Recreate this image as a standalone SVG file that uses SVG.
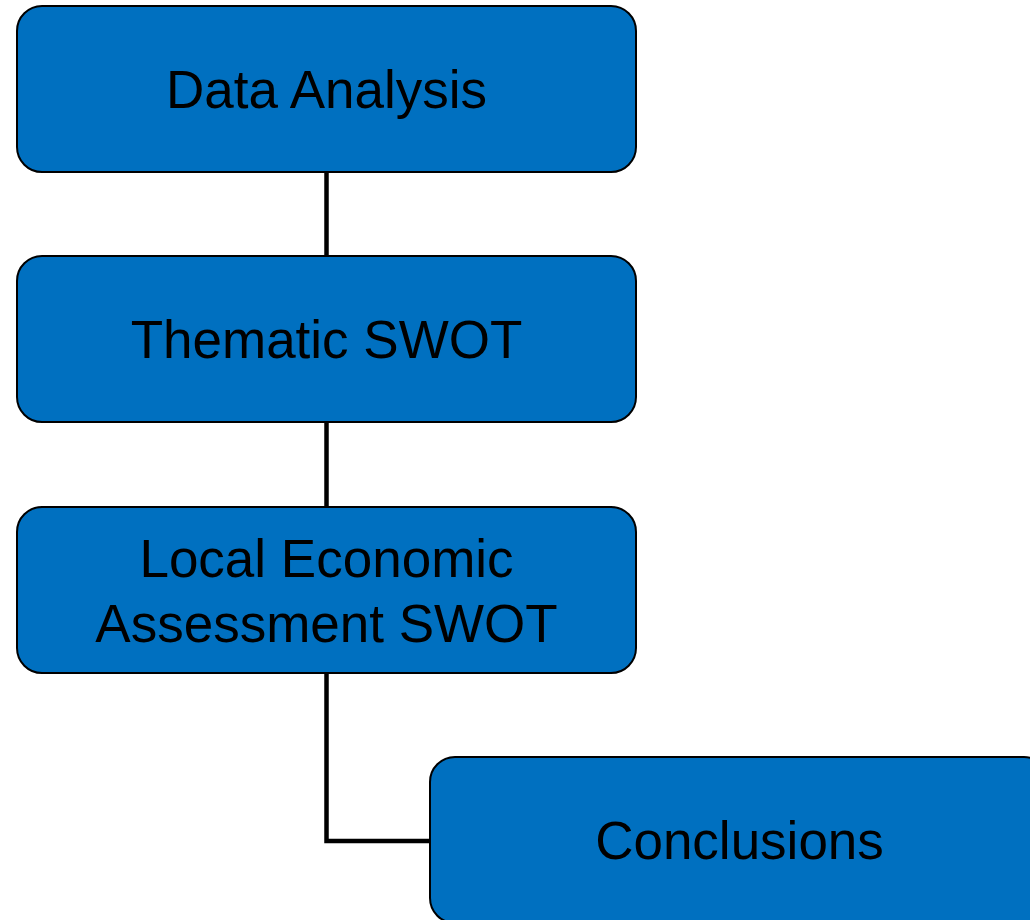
<svg xmlns="http://www.w3.org/2000/svg" width="1030" height="920" viewBox="0 0 1030 920">
<style>
.box{fill:#0070C0;stroke:#000;stroke-width:2}
.lbl{font-family:"Liberation Sans",Arial,sans-serif;font-size:53px;fill:#000;text-anchor:middle}
.conn{fill:none;stroke:#000;stroke-width:4.5}
</style>
<rect width="1030" height="920" fill="#fff"/>
<g id="connectors">
<line class="conn" x1="326.5" y1="172" x2="326.5" y2="256"/>
<line class="conn" x1="326.5" y1="422" x2="326.5" y2="507"/>
<polyline class="conn" points="326.5,673 326.5,841 431,841"/>
</g>
<g id="data-analysis">
<rect class="box" x="17" y="6" width="619" height="166" rx="25"/>
<text class="lbl" x="326.5" y="108">Data Analysis</text>
</g>
<g id="thematic-swot">
<rect class="box" x="17" y="256" width="619" height="166" rx="25"/>
<text class="lbl" x="326.5" y="358">Thematic SWOT</text>
</g>
<g id="local-economic-assessment-swot">
<rect class="box" x="17" y="507" width="619" height="166" rx="25"/>
<text class="lbl" x="326.5" y="577">Local Economic</text>
<text class="lbl" x="326.5" y="642">Assessment SWOT</text>
</g>
<g id="conclusions">
<rect class="box" x="430" y="757" width="619" height="166" rx="25"/>
<text class="lbl" x="739.5" y="859">Conclusions</text>
</g>
</svg>
